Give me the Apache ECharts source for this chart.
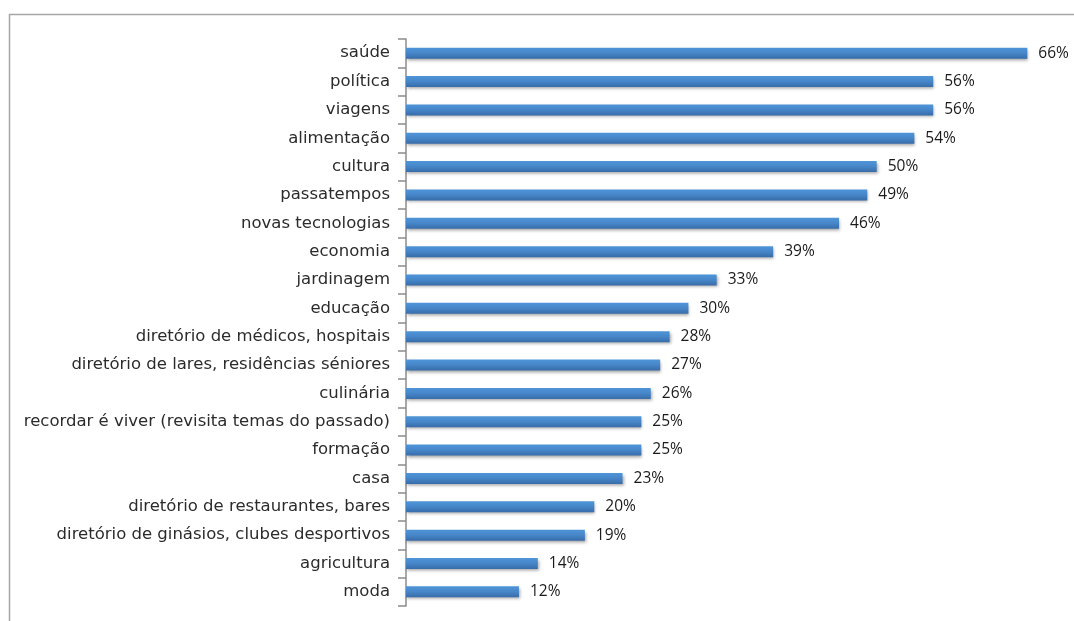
<!DOCTYPE html>
<html>
<head>
<meta charset="utf-8">
<script src="https://cdn.jsdelivr.net/npm/echarts@6/dist/echarts.min.js"></script>
<style>
  html, body { margin: 0; padding: 0; background: #ffffff; }
  #chart { width: 1074px; height: 621px; }
</style>
</head>
<body>
<div id="chart"></div>
<script>
// Interest topics, share of respondents (%), listed top to bottom
const categories = [
  'saúde',
  'política',
  'viagens',
  'alimentação',
  'cultura',
  'passatempos',
  'novas tecnologias',
  'economia',
  'jardinagem',
  'educação',
  'diretório de médicos, hospitais',
  'diretório de lares, residências séniores',
  'culinária',
  'recordar é viver (revisita temas do passado)',
  'formação',
  'casa',
  'diretório de restaurantes, bares',
  'diretório de ginásios, clubes desportivos',
  'agricultura',
  'moda'
];
const values = [66, 56, 56, 54, 50, 49, 46, 39, 33, 30, 28, 27, 26, 25, 25, 23, 20, 19, 14, 12];

const chart = echarts.init(document.getElementById('chart'), null, { renderer: 'canvas' });

chart.setOption({
  animation: false,
  backgroundColor: '#ffffff',
  graphic: [{
    type: 'rect',
    silent: true,
    shape: { x: 9.5, y: 14.5, width: 1200, height: 800 },
    style: { fill: 'none', stroke: '#a6a6a6', lineWidth: 1.5 }
  }],
  grid: { left: 406, right: 9, top: 39, bottom: 15, containLabel: false },
  xAxis: {
    type: 'value',
    min: 0,
    max: 70,
    show: false
  },
  yAxis: {
    type: 'category',
    inverse: true,
    data: categories,
    axisLine: { show: true, lineStyle: { color: '#8c8c8c', width: 1.5 } },
    axisTick: { show: true, length: 8, alignWithLabel: false, lineStyle: { color: '#8c8c8c', width: 1.5 } },
    axisLabel: {
      margin: 16,
      fontFamily: 'DejaVu Sans',
      fontSize: 16.5,
      color: '#2b2b2b'
    },
    splitLine: { show: false }
  },
  series: [{
    type: 'bar',
    data: values,
    barWidth: 11,
    itemStyle: {
      color: new echarts.graphic.LinearGradient(0, 0, 0, 1, [
        { offset: 0, color: '#4f95d9' },
        { offset: 0.5, color: '#4686c8' },
        { offset: 1, color: '#386ca9' }
      ]),
      shadowColor: 'rgba(0,0,0,0.35)',
      shadowBlur: 3,
      shadowOffsetX: 1,
      shadowOffsetY: 2
    },
    label: {
      show: true,
      position: 'right',
      distance: 11,
      formatter: '{c}%',
      fontFamily: 'Open Sans',
      fontSize: 15.5,
      color: '#1a1a1a'
    }
  }]
});
</script>
</body>
</html>
